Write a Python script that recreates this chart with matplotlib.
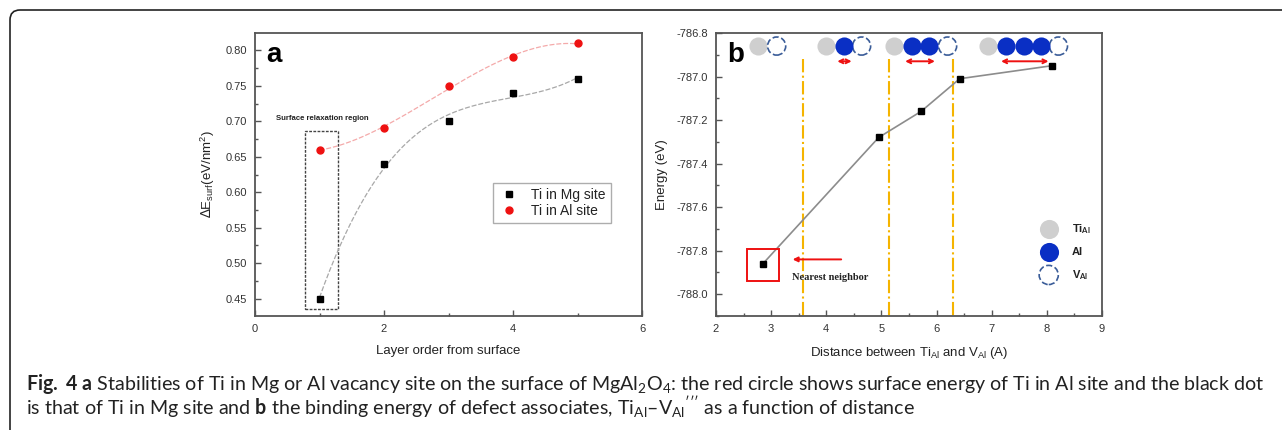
import numpy as np
import matplotlib
matplotlib.use('Agg')
import matplotlib.pyplot as plt
from matplotlib import font_manager
from matplotlib.patches import FancyBboxPatch, Rectangle
from matplotlib.lines import Line2D
from matplotlib.ticker import MultipleLocator, FormatStrFormatter

# ---------------- data ----------------
layers = [1, 2, 3, 4, 5]
mg_site = [0.45, 0.64, 0.70, 0.74, 0.76]
al_site = [0.66, 0.69, 0.75, 0.79, 0.81]

dist = [2.85, 4.95, 5.72, 6.42, 8.10]
energy = [-787.86, -787.28, -787.16, -787.01, -786.95]
shell_bounds = [3.58, 5.13, 6.29]

# atom-chain illustration (panel b)
ti_x = [2.77, 3.99, 5.23, 6.93]
al_x = [4.32, 5.56, 5.87, 7.26, 7.58, 7.89]
vac_x = [3.10, 4.64, 6.20, 8.21]
chain_y = -786.86
arrow_spans = [(4.20, 4.46), (5.43, 5.97), (7.17, 8.03)]
arrow_y = -786.93

legend_a = ['Ti in Mg site', 'Ti in Al site']
legend_b = [r'Ti$_{\mathbf{Al}}$', 'Al', r'V$_{\mathbf{Al}}$']

# ---------------- fonts ----------------
names = {f.name for f in font_manager.fontManager.ttflist}
plot_font = 'Liberation Sans' if 'Liberation Sans' in names else 'DejaVu Sans'
cap_font = next((n for n in ['Lato', 'Open Sans', 'Noto Sans'] if n in names), 'DejaVu Sans')
serif_font = 'Liberation Serif' if 'Liberation Serif' in names else 'DejaVu Serif'

plt.rcParams['font.family'] = [plot_font, 'DejaVu Sans']
plt.rcParams['axes.unicode_minus'] = False
plt.rcParams['mathtext.fontset'] = 'custom'
plt.rcParams['mathtext.rm'] = cap_font
plt.rcParams['mathtext.bf'] = cap_font + ':bold'
plt.rcParams['mathtext.it'] = cap_font + ':italic'
plt.rcParams['mathtext.sf'] = plot_font

W, H = 1282, 430
fig = plt.figure(figsize=(W / 100, H / 100), dpi=100)

# outer rounded frame
frame = FancyBboxPatch((0.10, -0.5), 13.5, 4.70,
                       boxstyle='round,pad=0,rounding_size=0.1',
                       transform=fig.dpi_scale_trans, fill=False,
                       edgecolor='#222222', linewidth=1.2, clip_on=False)
fig.patches.append(frame)

axA = fig.add_axes([255 / W, 1 - 316 / H, (642 - 255) / W, (316 - 33) / H])
axB = fig.add_axes([716 / W, 1 - 316 / H, (1102 - 716) / W, (316 - 33) / H])

spine_col = '#555555'
tick_col = '#333333'
for ax in (axA, axB):
    for s in ax.spines.values():
        s.set_color(spine_col)
        s.set_linewidth(1.3)
    ax.tick_params(which='both', direction='in', color=spine_col, labelcolor=tick_col,
                   labelsize=8, top=False, right=False)
    ax.tick_params(which='major', length=4, width=1, pad=6)
    ax.tick_params(which='minor', length=2.5, width=1)

# ---------------- panel a ----------------
xs = np.linspace(1, 5, 200)
pm = np.polyfit(layers, mg_site, 3)
pa = np.polyfit(layers, al_site, 3)
axA.plot(xs, np.polyval(pm, xs), color='#a8a8a8', lw=0.9, ls=(0, (4, 1.5)), zorder=2)
axA.plot(xs, np.polyval(pa, xs), color='#f4aaaa', lw=0.9, ls=(0, (4, 1.5)), zorder=2)
axA.plot(layers, mg_site, 's', color='black', ms=5, zorder=3)
axA.plot(layers, al_site, 'o', color='#ee1111', ms=5, zorder=3)

axA.set_xlim(0, 6)
axA.set_ylim(0.4255, 0.8245)
axA.xaxis.set_major_locator(MultipleLocator(2))
axA.xaxis.set_minor_locator(MultipleLocator(1))
axA.yaxis.set_major_locator(MultipleLocator(0.05))
axA.yaxis.set_minor_locator(MultipleLocator(0.025))
axA.yaxis.set_major_formatter(FormatStrFormatter('%.2f'))
axA.set_xlabel('Layer order from surface', fontsize=9.5, color='#222222', labelpad=8)
axA.set_ylabel(r'$\Delta$E$_{\mathsf{surf}}$(eV/nm$^{\mathsf{2}}$)', fontsize=9.5,
               color='#222222', labelpad=6)

axA.add_patch(Rectangle((0.78, 0.435), 0.50, 0.2517, fill=False, edgecolor='#444444',
                        linestyle=(0, (2, 1)), linewidth=1.0, zorder=1))
axA.text(0.32, 0.704, 'Surface relaxation region', fontsize=5.6, fontweight='bold',
         color='#222222', va='center', ha='left')
axA.text(0.03, 0.922, 'a', transform=axA.transAxes, fontsize=20, fontweight='bold',
         va='center', ha='left')

hA = [Line2D([], [], marker='s', color='black', ls='none', ms=5),
      Line2D([], [], marker='o', color='#ee1111', ls='none', ms=5)]
legA = axA.legend(hA, legend_a, loc='upper left', bbox_to_anchor=(0.615, 0.47),
                  fontsize=10, frameon=True, fancybox=False, edgecolor='#999999',
                  handlelength=1.6, handletextpad=0.8, borderpad=0.35, labelspacing=0.15,
                  borderaxespad=0)
legA.get_frame().set_linewidth(1.0)
for t in legA.get_texts():
    t.set_color('#222222')

# ---------------- panel b ----------------
axB.plot(dist, energy, '-', color='#8c8c8c', lw=1.2, zorder=2)
axB.plot(dist, energy, 's', color='black', ms=5, zorder=3)
for xb in shell_bounds:
    axB.plot([xb, xb], [-786.92, -788.1], color='#f5b400', lw=1.5, ls='-.', zorder=1)

s_big = 170
axB.scatter(ti_x, [chain_y] * len(ti_x), s=s_big, color='#cfcfcf', zorder=4, linewidths=0)
axB.scatter(al_x, [chain_y] * len(al_x), s=s_big, color='#0a2fc4', zorder=5, linewidths=0)
axB.scatter(vac_x, [chain_y] * len(vac_x), s=s_big, facecolors='white',
            edgecolors='#3a5c98', linewidths=1.2, linestyles='--', zorder=4)
for x0, x1 in arrow_spans:
    axB.annotate('', xy=(x1, arrow_y), xytext=(x0, arrow_y),
                 arrowprops=dict(arrowstyle='<->', color='#ee1111', lw=1.4,
                                 shrinkA=0, shrinkB=0, mutation_scale=7))

axB.add_patch(Rectangle((2.56, -787.94), 0.58, 0.147, fill=False, edgecolor='#ee1111',
                        linewidth=1.4, zorder=3))
axB.annotate('', xy=(3.39, -787.84), xytext=(4.27, -787.84),
             arrowprops=dict(arrowstyle='-|>', color='#ee1111', lw=1.4,
                             shrinkA=0, shrinkB=0, mutation_scale=7))
axB.text(3.37, -787.925, 'Nearest neighbor', fontsize=7.5, fontweight='bold',
         family=serif_font, color='#222222', va='center', ha='left')

lx, ly = 0.862, [0.306, 0.227, 0.145]
axB.scatter([lx], [ly[0]], s=190, color='#cfcfcf', transform=axB.transAxes, linewidths=0,
            clip_on=False)
axB.scatter([lx], [ly[1]], s=190, color='#0a2fc4', transform=axB.transAxes, linewidths=0,
            clip_on=False)
axB.scatter([lx], [ly[2]], s=190, facecolors='white', edgecolors='#3a5c98',
            linewidths=1.2, linestyles='--', transform=axB.transAxes, clip_on=False)
for lab, yy in zip(legend_b, ly):
    axB.text(0.921, yy, lab, transform=axB.transAxes, fontsize=8, fontweight='bold',
             va='center', ha='left', color='#222222')

axB.set_xlim(2, 9)
axB.set_ylim(-788.1, -786.8)
axB.xaxis.set_major_locator(MultipleLocator(1))
axB.xaxis.set_minor_locator(MultipleLocator(0.5))
axB.yaxis.set_major_locator(MultipleLocator(0.2))
axB.yaxis.set_minor_locator(MultipleLocator(0.1))
axB.yaxis.set_major_formatter(FormatStrFormatter('%.1f'))
axB.set_xlabel(r'Distance between Ti$_{\mathsf{Al}}$ and V$_{\mathsf{Al}}$ (A)', fontsize=9.5,
               color='#222222', labelpad=8)
axB.set_ylabel('Energy (eV)', fontsize=9.5, color='#222222', labelpad=6)
axB.text(0.03, 0.922, 'b', transform=axB.transAxes, fontsize=20, fontweight='bold',
         va='center', ha='left')

# ---------------- caption ----------------
line1 = (r'$\mathbf{Fig.\ 4\ a}$ Stabilities of Ti in Mg or Al vacancy site on the surface of '
         r'MgAl$_2$O$_4$: the red circle shows surface energy of Ti in Al site and the black dot')
line2 = (r'is that of Ti in Mg site and $\mathbf{b}$ the binding energy of defect associates, '
         r'Ti$_{\mathrm{Al}}$–V$_{\mathrm{Al}}$$^{\prime\prime\prime}$ as a function of distance')
t1 = fig.text(26 / W, 1 - 390 / H, line1, fontsize=13, family=cap_font, color='#222222',
              ha='left', va='baseline')
t2 = fig.text(26 / W, 1 - 415 / H, line2, fontsize=13, family=cap_font, color='#222222',
              ha='left', va='baseline')
r = fig.canvas.get_renderer()
w1 = t1.get_window_extent(renderer=r).width
fs = 13 * (1236 / w1)
t1.set_fontsize(fs)
t2.set_fontsize(fs)

fig.savefig('out.png', dpi=100)
